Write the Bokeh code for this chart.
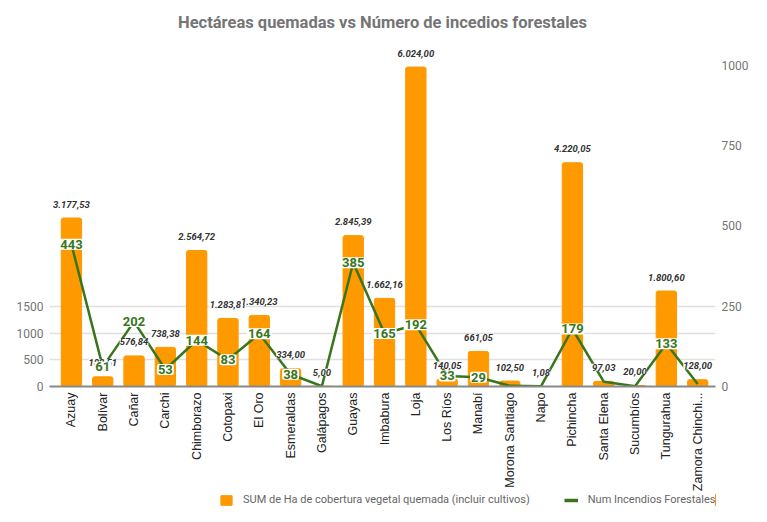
import math
from bokeh.plotting import figure
from bokeh.layouts import column
from bokeh.models import Range1d, LinearAxis, FixedTicker, Legend, LegendItem
from bokeh.core.properties import value
from bokeh.embed import file_html
from bokeh.resources import INLINE

provincias = ["Azuay", "Bolívar", "Cañar", "Carchi", "Chimborazo", "Cotopaxi", "El Oro",
              "Esmeraldas", "Galápagos", "Guayas", "Imbabura", "Loja", "Los Ríos", "Manabí",
              "Morona Santiago", "Napo", "Pichincha", "Santa Elena", "Sucumbíos", "Tungurahua",
              "Zamora Chinchi..."]
hectareas = [3177.53, 182.51, 576.84, 738.38, 2564.72, 1283.81, 1340.23, 334.00, 5.00, 2845.39,
             1662.16, 6024.00, 140.05, 661.05, 102.50, 1.08, 4220.05, 97.03, 20.00, 1800.60, 128.00]
incendios = [443, 61, 202, 53, 144, 83, 164, 38, 1, 385, 165, 192, 33, 29, 2, 1, 179, 15, 1, 133, 8]
left_ticks = [0, 500, 1000, 1500]
right_ticks = [0, 250, 500, 750, 1000]

BAR = "#ff9900"
GREEN = "#38761d"
GREY = "#757575"

def es_fmt(v):
    s = f"{v:,.2f}"
    return s.replace(",", "X").replace(".", ",").replace("X", ".")

idx = list(range(len(provincias)))
bar_labels = [es_fmt(v) for v in hectareas]
shown = [i for i in idx if incendios[i] >= 25]

p = figure(width=751, height=494, output_backend="svg", toolbar_location=None,
           x_range=Range1d(-0.7, 20.57), y_range=Range1d(0, 6525),
           min_border_left=49, min_border_right=16, min_border_top=40, min_border_bottom=106,
           title="Hectáreas quemadas vs Número de incedios forestales")
p.extra_y_ranges = {"inc": Range1d(0, 1077)}
p.outline_line_color = None
p.background_fill_color = "white"

p.title.align = "center"
p.title.text_font = "Roboto"
p.title.text_font_style = "bold"
p.title.text_font_size = "16.5px"
p.title.text_color = GREY
p.title.standoff = 18
p.title.offset = 0

bars = p.vbar(x=idx, top=hectareas, width=0.65, color=BAR, border_radius=2)
line = p.line(x=idx, y=incendios, y_range_name="inc", line_color=GREEN, line_width=2.5)

p.text(x=idx, y=hectareas, text=bar_labels, text_font=value("Roboto"), text_font_style="bold italic",
       text_font_size="9.5px", text_color="#333333", text_align="center", text_baseline="middle",
       y_offset=-14, background_fill_color="white", padding=0)

p.text(x=[idx[i] for i in shown], y=[incendios[i] for i in shown], y_range_name="inc",
       text=[str(incendios[i]) for i in shown], text_font=value("Roboto"), text_font_style="bold",
       text_font_size="13px", text_color=GREEN, text_align="center", text_baseline="middle",
       background_fill_color="white", padding=1, border_radius=2)

# left axis
ya = p.yaxis[0]
ya.ticker = FixedTicker(ticks=left_ticks)
ya.axis_line_color = None
ya.major_tick_line_color = None
ya.minor_tick_line_color = None
ya.major_label_text_color = GREY
ya.major_label_text_font = "Roboto"
ya.major_label_text_font_size = "12px"
ya.major_tick_out = 0
ya.major_label_standoff = 6

ra = LinearAxis(y_range_name="inc", ticker=FixedTicker(ticks=right_ticks))
ra.axis_line_color = None
ra.major_tick_line_color = None
ra.minor_tick_line_color = None
ra.major_label_text_color = GREY
ra.major_label_text_font = "Roboto"
ra.major_label_text_font_size = "12px"
ra.major_tick_out = 0
ra.major_label_standoff = 6
p.add_layout(ra, "right")

p.ygrid.grid_line_color = "#e0e0e0"
p.ygrid.grid_line_width = 1.5
p.xgrid.visible = False

xa = p.xaxis[0]
xa.ticker = FixedTicker(ticks=idx)
xa.major_label_overrides = {i: n for i, n in zip(idx, provincias)}
xa.major_label_orientation = math.pi / 2
xa.major_label_text_font = "Liberation Sans"
xa.major_label_text_font_size = "12.5px"
xa.major_label_text_color = "#222222"
xa.major_tick_line_color = None
xa.minor_tick_line_color = None
xa.axis_line_color = "#888888"
xa.axis_line_width = 2
xa.major_tick_out = 0
xa.major_label_standoff = 6

# legend strip: a small figure whose own renderers (same data, out of view) feed the legend
lp = figure(width=751, height=12, output_backend="svg", toolbar_location=None,
            x_range=Range1d(-3, -2), y_range=Range1d(0, 1),
            min_border_left=0, min_border_right=0, min_border_top=0, min_border_bottom=0)
lp.axis.visible = False
lp.grid.visible = False
lp.outline_line_color = None
lbars = lp.vbar(x=idx, top=hectareas, width=0.65, color=BAR)
lline = lp.line(x=idx, y=incendios, line_color=GREEN, line_width=3.5)

legend = Legend(items=[
    LegendItem(label="SUM de Ha de cobertura vegetal quemada (incluir cultivos)", renderers=[lbars]),
    LegendItem(label="Num Incendios Forestales", renderers=[lline]),
], orientation="horizontal", location=(170, 0), border_line_color=None,
    background_fill_alpha=0, label_text_font="Roboto", label_text_font_size="11px",
    label_text_color="#666666", glyph_width=14, glyph_height=12, label_standoff=10,
    spacing=34, padding=0, margin=0, label_height=12)
lp.add_layout(legend, "center")

open("out.html", "w").write(file_html(column(p, lp, spacing=0), INLINE))
